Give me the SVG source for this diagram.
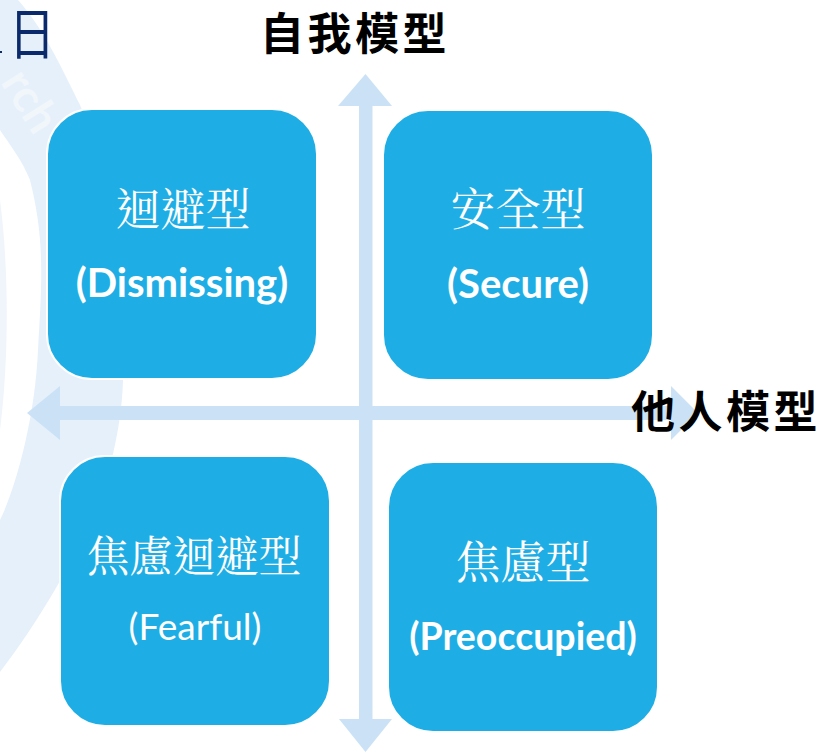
<svg xmlns="http://www.w3.org/2000/svg" width="835" height="752" viewBox="0 0 835 752">
<style>
.box{fill:#1eaee5;stroke:#fff;stroke-width:2}
.arrow{fill:#cbe2f6}
.cjk{font-family:"Noto Sans CJK TC","Noto Sans CJK SC",sans-serif;fill:#000;font-weight:700;font-size:44px;letter-spacing:3.500px}
.zh{font-family:"Noto Serif CJK TC","Noto Sans CJK TC",sans-serif;fill:#fff;font-size:45px;text-anchor:middle;font-weight:400}
.en{font-family:Lato,"Open Sans",sans-serif;fill:#fff;font-size:37px;text-anchor:middle}
.b{font-weight:700;font-size:40px}
</style>
<g id="watermark">
<path d="M0 0H18C45 30 65 75 80 105C105 165 124 290 123 380C122 420 112 470 95 510C80 550 40 620 0 672V520C15 490 35 420 38 350C42 280 45 240 30 180C22 160 10 145 0 130Z" fill="#e6f0fa"/>
<path d="M0 200C8 260 10 350 0 430Z" fill="#f0f5fb"/>
<text transform="translate(0 82) rotate(58)" font-family="Lato,sans-serif" font-weight="700" font-size="46" fill="#f1f6fb">rch</text>
</g>
<g id="header-fragment">
<path d="M0 52H2" stroke="#0b2a6b" stroke-width="2"/>
<text transform="translate(9 54) scale(1 1.200)" font-family="Noto Sans CJK TC,sans-serif" font-size="46" fill="#0b2a6b">日</text>
</g>
<g id="connectors">
<path class="arrow" d="M365.500 74L392 106H372.500V719H392L365.500 752L339 719H359V106H338Z"/>
<path class="arrow" d="M27 413L60 386V406H671V386L698 413L671 440V420H60V440Z"/>
</g>
<g id="node-dismissing">
<rect class="box" x="47" y="109" width="270" height="270" rx="45"/>
<text class="zh" x="183" y="226">迴避型</text>
<text class="en b" x="182" y="297">(Dismissing)</text>
</g>
<g id="node-secure">
<rect class="box" x="383" y="110" width="270" height="270" rx="45"/>
<text class="zh" x="518" y="226">安全型</text>
<text class="en b" x="518" y="298">(Secure)</text>
</g>
<g id="node-fearful">
<rect class="box" x="60" y="456" width="270" height="270" rx="45"/>
<text class="zh" x="194" y="572" style="font-size:43px">焦慮迴避型</text>
<text class="en" x="195" y="640">(Fearful)</text>
</g>
<g id="node-preoccupied">
<rect class="box" x="388" y="462" width="270" height="270" rx="45"/>
<text class="zh" x="523" y="579">焦慮型</text>
<text class="en b" x="523" y="650" style="font-size:37.500px">(Preoccupied)</text>
</g>
<g id="axis-labels">
<text class="cjk" x="260" y="50">自我模型</text>
<text class="cjk" x="631" y="428">他人模型</text>
</g>
</svg>
